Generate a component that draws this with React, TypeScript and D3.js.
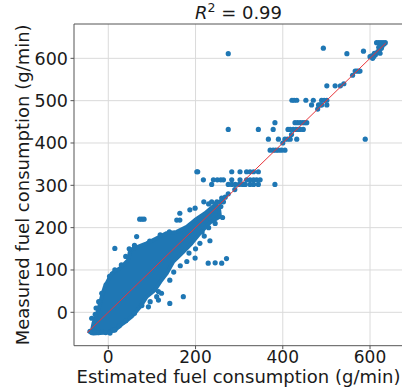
import React from "react";
import * as d3 from "d3";

// ---- data (g/min) ----
const xTicks = [0, 200, 400, 600];
const yTicks = [0, 100, 200, 300, 400, 500, 600];
const fitLine: [number, number][] = [[-48, -48], [636, 636]];

// outline of the dense region of overlapping points
const clusterOutline: [number, number][] = [
  [-38, -46], [-34, -26], [-23, 5], [-15, 37], [-8, 60], [8, 92], [27, 104], [46, 124],
  [50, 147], [69, 155], [88, 163], [111, 175], [134, 187], [157, 190], [180, 202],
  [199, 218], [222, 234], [240, 250], [248, 255], [254, 244], [256, 226], [233, 212],
  [210, 187], [191, 163], [172, 143], [149, 120], [134, 92], [119, 72], [107, 53],
  [88, 37], [73, 13], [54, -10], [34, -26], [15, -42], [-4, -48], [-34, -50],
];

// individual points
const points: [number, number][] = [
  // bottom row & left edge of the dense cloud
  [-42, -45], [-38, -48], [-30, -47], [-22, -48], [-14, -46], [-6, -48], [4, -49], [11, -42],
  [15, -42], [-38, -14], [-30, -5], [-28, 10], [-22, 25], [-15, 45], [-5, 65], [3, 85],
  [15, 100], [30, 112], [40, 132], [48, 150], [15, 151], [65, 179], [60, 158],
  [72, 220], [77, 220], [82, 220], [95, 168], [119, 183], [140, 190],
  // right edge of the dense cloud
  [25, -32], [40, -20], [60, -2], [77, 16], [92, 13], [96, 25], [111, 37], [115, 29],
  [115, 49], [122, 45], [141, 21], [172, 37], [141, 76], [150, 95], [165, 110], [180, 120],
  [199, 128], [229, 116], [245, 117], [260, 116], [271, 127], [210, 163], [200, 150],
  [233, 169], [215, 190], [230, 200], [245, 210], [262, 224], [185, 140], [220, 180],
  // above the dense cloud
  [164, 234], [187, 242], [199, 246], [157, 218], [164, 218], [205, 332], [203, 332], [218, 313],
  [237, 302], [219, 261], [237, 261], [249, 261], [257, 261], [264, 261], [230, 256],
  [246, 256], [258, 250], [241, 313], [250, 313], [258, 313], [264, 313],
  [283, 332], [302, 332], [317, 332], [325, 332], [333, 332], [344, 332],
  [275, 302], [283, 302], [291, 302], [300, 302], [308, 302], [314, 302], [325, 302],
  [333, 302], [344, 302], [382, 302], [283, 313], [302, 313], [317, 313], [325, 313],
  [333, 313], [340, 313], [348, 313], [260, 270], [268, 272], [275, 280], [290, 290],
  // the 370-460 region
  [371, 383], [378, 383], [384, 383], [390, 383], [397, 383], [405, 383],
  [367, 409], [390, 409], [405, 409], [411, 409], [417, 409], [432, 409], [589, 409],
  [275, 432], [344, 432], [378, 432], [412, 432], [417, 432], [424, 432], [430, 432],
  [436, 432], [440, 432], [447, 432], [382, 448], [428, 448], [434, 448], [440, 448],
  [446, 448], [451, 448], [455, 448], [400, 400], [420, 420],
  // 480-640 region
  [421, 501], [426, 501], [432, 501], [453, 501], [470, 501], [489, 501], [495, 501], [501, 501],
  [466, 490], [482, 490], [486, 490], [489, 490], [501, 490], [480, 480],
  [501, 535], [520, 535], [532, 535], [540, 540],
  [566, 570], [570, 570], [574, 570], [577, 570], [560, 560],
  [275, 611], [493, 624], [547, 611], [585, 617], [623, 612],
  [600, 604], [604, 606], [608, 604], [612, 608], [606, 600], [614, 612], [618, 616],
  [622, 620], [626, 624], [615, 637], [620, 637], [625, 637], [630, 637], [635, 637],
  [628, 630], [632, 634], [610, 612], [620, 626],
];

const W = 402;
const H = 392;
const left = 74;
const right = 403;
const top = 24;
const bottom = 345.7;
const BLUE = "#1f77b4";
const FONT = "DejaVu Sans, sans-serif";

export default function App() {
  const x = d3.scaleLinear().domain([-78.6, 675.6]).range([left, right]);
  const y = d3.scaleLinear().domain([-78.9, 681.1]).range([bottom, top]);
  const blob = d3
    .line<[number, number]>()
    .x((d) => x(d[0]))
    .y((d) => y(d[1]))
    .curve(d3.curveLinearClosed)(clusterOutline) as string;
  const fit = d3
    .line<[number, number]>()
    .x((d) => x(d[0]))
    .y((d) => y(d[1]))(fitLine) as string;

  return (
    <svg
      width={W}
      height={H}
      style={{ position: "absolute", left: 0, top: 0 }}
      fontFamily={FONT}
    >
      <rect width={W} height={H} fill="#fff" />
      <defs>
        <clipPath id="plot">
          <rect x={left} y={top} width={right - left} height={bottom - top} />
        </clipPath>
      </defs>
      {/* grid */}
      {xTicks.map((t) => (
        <line key={"gx" + t} x1={x(t)} x2={x(t)} y1={top} y2={bottom} stroke="#dadada" strokeWidth={1} />
      ))}
      {yTicks.map((t) => (
        <line key={"gy" + t} x1={left} x2={right} y1={y(t)} y2={y(t)} stroke="#dadada" strokeWidth={1} />
      ))}
      <g clipPath="url(#plot)">
        <path d={blob} fill={BLUE} stroke={BLUE} strokeWidth={4} strokeLinejoin="round" />
        {points.map((p, i) => (
          <circle key={i} cx={x(p[0])} cy={y(p[1])} r={2.6} fill={BLUE} />
        ))}
        <path d={fit} stroke="#e8343a" strokeWidth={1} fill="none" />
      </g>
      {/* spines */}
      <line x1={left} x2={left} y1={top} y2={bottom} stroke="#555" strokeWidth={1} />
      <line x1={left} x2={right} y1={bottom} y2={bottom} stroke="#555" strokeWidth={1} />
      <line x1={left} x2={right} y1={top} y2={top} stroke="#555" strokeWidth={1} />
      {/* ticks */}
      {xTicks.map((t) => (
        <g key={"tx" + t}>
          <line x1={x(t)} x2={x(t)} y1={bottom} y2={bottom + 3.5} stroke="#555" />
          <text x={x(t)} y={bottom + 17.5} fontSize={17} textAnchor="middle" fill="#1a1a1a">
            {t}
          </text>
        </g>
      ))}
      {yTicks.map((t) => (
        <g key={"ty" + t}>
          <line x1={left - 3.5} x2={left} y1={y(t)} y2={y(t)} stroke="#555" />
          <text x={left - 6} y={y(t) + 6.5} fontSize={17.5} textAnchor="end" fill="#1a1a1a">
            {t}
          </text>
        </g>
      ))}
      {/* labels */}
      <text x={238.5} y={383} fontSize={18} textAnchor="middle" fill="#1a1a1a">
        Estimated fuel consumption (g/min)
      </text>
      <text
        transform={`translate(29,${(top + bottom) / 2}) rotate(-90)`}
        fontSize={18}
        textAnchor="middle"
        fill="#1a1a1a"
      >
        Measured fuel consumption (g/min)
      </text>
      <text x={238.5} y={19} fontSize={18} textAnchor="middle" fill="#1a1a1a">
        <tspan fontStyle="italic">R</tspan>
        <tspan fontSize={12.5} dy={-7}>2</tspan>
        <tspan dy={7}>{" = 0.99"}</tspan>
      </text>
    </svg>
  );
}
